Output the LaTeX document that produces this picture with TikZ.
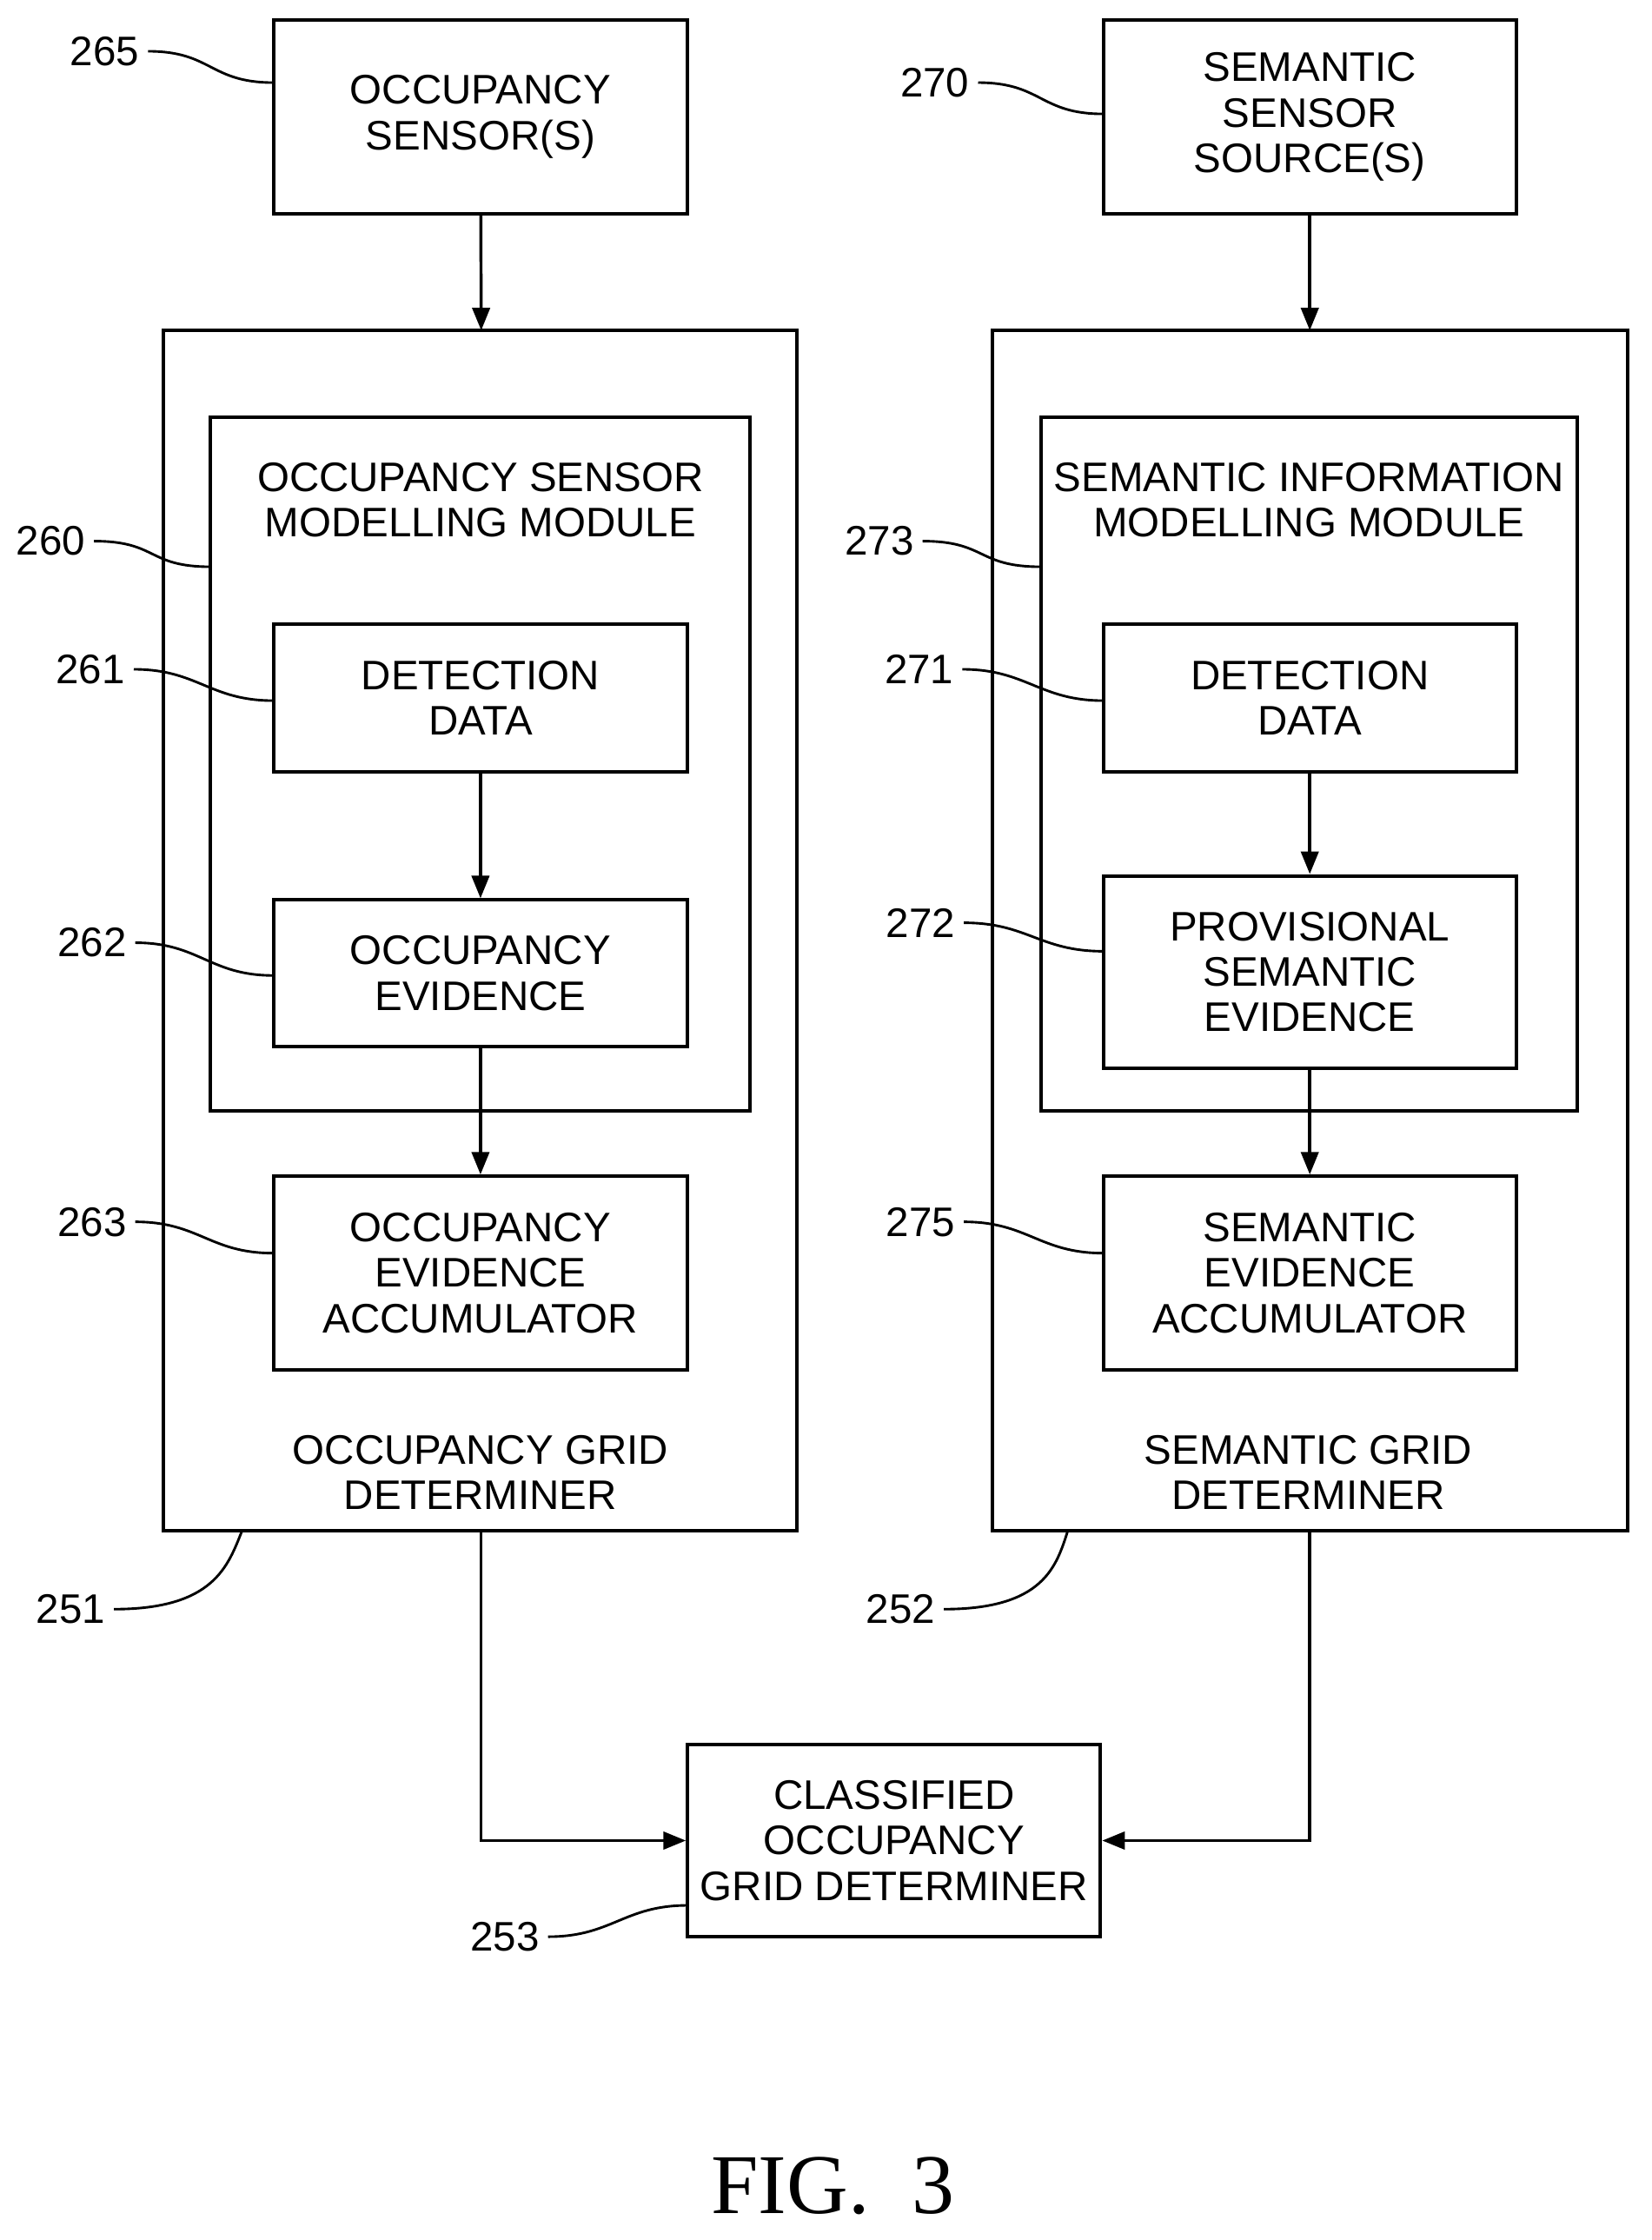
\documentclass[tikz,border=0pt]{standalone}
\usepackage{fontspec}
\setmainfont{Liberation Sans}
\newfontfamily\figfont{Liberation Serif}
\usetikzlibrary{arrows.meta,calc}
\begin{document}
\begin{tikzpicture}[x=0.02cm,y=-0.02cm,
  box/.style={draw,line width=1.4pt,align=center,font=\fontsize{16.5}{18.2}\selectfont},
  txt/.style={align=center,font=\fontsize{16.5}{18.2}\selectfont},
  num/.style={font=\fontsize{16.5}{18.2}\selectfont},
  arr/.style={line width=1.2pt,-{Triangle[length=9pt,width=7pt]}},
  lead/.style={line width=1pt}]
\useasboundingbox (0,0) rectangle (1160,1573);
% boxes
\node[box,minimum width=291*0.02cm,minimum height=136*0.02cm] (os) at (337.5,82) {OCCUPANCY\\SENSOR(S)};
\node[box,minimum width=290*0.02cm,minimum height=136*0.02cm] (ss) at (920,82) {SEMANTIC\\SENSOR\\SOURCE(S)};
\draw[line width=1.4pt] (115,232) rectangle (560,1075);
\draw[line width=1.4pt] (697,232) rectangle (1143,1075);
\draw[line width=1.4pt] (148,293) rectangle (527,780);
\draw[line width=1.4pt] (731,293) rectangle (1108,780);
\coordinate (ot) at (338,232); \coordinate (st) at (920,232);
\coordinate (ob) at (338,1075); \coordinate (sb) at (920,1075);
\coordinate (ml) at (148,398); \coordinate (mr) at (731,398);
\node[txt] (omt) at (337.5,351) {OCCUPANCY SENSOR\\MODELLING MODULE};
\node[txt] (smt) at (919.5,351) {SEMANTIC INFORMATION\\MODELLING MODULE};
\node[txt] (ogt) at (337.5,1034) {OCCUPANCY GRID\\DETERMINER};
\node[txt] (sgt) at (919,1034) {SEMANTIC GRID\\DETERMINER};
\node[box,minimum width=291*0.02cm,minimum height=104*0.02cm] (dl) at (337.5,490) {DETECTION\\DATA};
\node[box,minimum width=290*0.02cm,minimum height=104*0.02cm] (dr) at (920,490) {DETECTION\\DATA};
\node[box,minimum width=291*0.02cm,minimum height=103*0.02cm] (oe) at (337.5,683.5) {OCCUPANCY\\EVIDENCE};
\node[box,minimum width=290*0.02cm,minimum height=135*0.02cm] (pe) at (920,682.5) {PROVISIONAL\\SEMANTIC\\EVIDENCE};
\node[box,minimum width=291*0.02cm,minimum height=136*0.02cm] (oa) at (337.5,894) {OCCUPANCY\\EVIDENCE\\ACCUMULATOR};
\node[box,minimum width=290*0.02cm,minimum height=136*0.02cm] (sa) at (920,894) {SEMANTIC\\EVIDENCE\\ACCUMULATOR};
\node[box,minimum width=290*0.02cm,minimum height=135*0.02cm] (co) at (628,1292.5) {CLASSIFIED\\OCCUPANCY\\GRID DETERMINER};
% arrows
\draw[arr] (os) -- (ot);
\draw[arr] (ss) -- (st);
\draw[arr] (dl) -- (oe);
\draw[arr] (dr) -- (pe);
\draw[arr] (oe) -- (oa);
\draw[arr] (pe) -- (sa);
\draw[arr] (ob) |- (co);
\draw[arr] (sb) |- (co);
% labels
\node[num,anchor=east] (n265) at (104,36) {265};
\node[num,anchor=east] (n270) at (687,58) {270};
\node[num,anchor=east] (n260) at (66,380) {260};
\node[num,anchor=east] (n261) at (94,470) {261};
\node[num,anchor=east] (n262) at (95,662) {262};
\node[num,anchor=east] (n263) at (95,858) {263};
\node[num,anchor=east] (n251) at (80,1130) {251};
\node[num,anchor=east] (n273) at (648,380) {273};
\node[num,anchor=east] (n271) at (676,470) {271};
\node[num,anchor=east] (n272) at (677,648) {272};
\node[num,anchor=east] (n275) at (677,858) {275};
\node[num,anchor=east] (n252) at (663,1130) {252};
\node[num,anchor=east] (n253) at (385,1360) {253};
\coordinate (c265) at (192,58); \coordinate (c270) at (775,80);
\coordinate (c261) at (192,492); \coordinate (c262) at (192,685);
\coordinate (c263) at (192,880); \coordinate (c271) at (775,492);
\coordinate (c272) at (775,668); \coordinate (c275) at (775,880);
\coordinate (c251) at (170,1075); \coordinate (c252) at (750,1075);
\coordinate (c253) at (483,1338);
\foreach \a/\b in {n265/c265,n270/c270,n260/ml,n261/c261,n262/c262,n263/c263,n273/mr,n271/c271,n272/c272,n275/c275,n253/c253}
  \draw[lead] (\a.east) .. controls ($(\a.east)+(45,0)$) and ($(\b)+(-45,0)$) .. (\b);
\draw[lead] (n251.east) .. controls (150,1130) and (160,1100) .. (c251);
\draw[lead] (n252.east) .. controls (733,1130) and (742,1100) .. (c252);
\node[font=\figfont\fontsize{34}{36}\selectfont] (fig) at (585,1535) {FIG.~~3};
\end{tikzpicture}
\end{document}
